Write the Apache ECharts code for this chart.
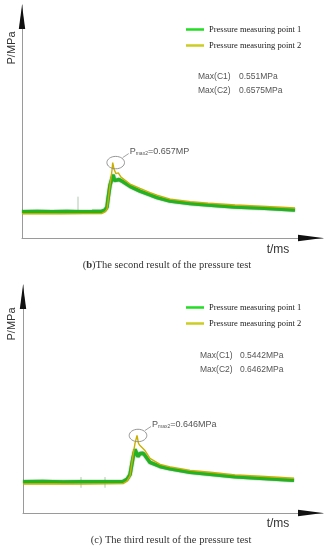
<!DOCTYPE html>
<html>
<head>
<meta charset="utf-8">
<script src="https://cdn.jsdelivr.net/npm/echarts@6/dist/echarts.min.js"></script>
<style>
html,body{margin:0;padding:0;background:#fff;}
#c{width:330px;height:550px;}
</style>
</head>
<body>
<div id="c"></div>
<script>
// ---- DATA (time in ms, arbitrary origin; pressure in MPa) ----
const seriesNames = ['Pressure measuring point 1', 'Pressure measuring point 2'];

// (b) second test
const tB1 = [0,15,30,45,56,70,80,83,85,86,88,90,91.2,92.5,94.7,97,101,108,118,128,135,148,168,186,213,238,273];
const pB1 = [0.229,0.231,0.228,0.230,0.229,0.231,0.233,0.243,0.27,0.34,0.46,0.52,0.551,0.50,0.504,0.51,0.49,0.45,0.409,0.375,0.352,0.322,0.30,0.287,0.27,0.261,0.243];
const tB2 = [0,20,40,60,80,83,85,86,88,90,90.7,92,94,96.3,99,108,118,128,135,148,168,186,213,238,273];
const pB2 = [0.211,0.212,0.210,0.212,0.214,0.228,0.25,0.32,0.46,0.59,0.657,0.60,0.56,0.568,0.53,0.47,0.432,0.395,0.374,0.339,0.317,0.304,0.287,0.278,0.261];
const tBspike = [56,56];
const pBspike = [0.22,0.36];

// (c) third test
const tC1 = [0,20,40,58,80,100,104,107,110,112,113.5,115,117,120,122,127,137,147,167,187,212,237,271];
const pC1 = [0.26,0.262,0.259,0.26,0.261,0.262,0.28,0.32,0.46,0.53,0.544,0.47,0.496,0.498,0.48,0.421,0.388,0.368,0.339,0.322,0.302,0.289,0.273];
const tC2 = [0,30,60,100,104,107,110,112,114,115.5,117,120,122,127,137,147,167,187,212,237,271];
const pC2 = [0.242,0.244,0.241,0.245,0.265,0.31,0.48,0.58,0.646,0.58,0.562,0.537,0.52,0.455,0.405,0.384,0.355,0.339,0.318,0.306,0.289];
const tCspike1 = [58,58], pCspike1 = [0.21,0.30];
const tCspike2 = [82,82], pCspike2 = [0.21,0.30];

const maxB = [['Max(C1)','0.551MPa'],['Max(C2)','0.6575MPa']];
const maxC = [['Max(C1)','0.5442MPa'],['Max(C2)','0.6462MPa']];
const peakLabelB = '=0.657MP';
const peakLabelC = '=0.646MPa';
const captionB = ['b', 'The second result of the pressure test'];
const captionC = '(c) The third result of the pressure test';
const yName = 'P/MPa', xName = 't/ms';

// ---- BUILD ----
function pairs(t, p){ return t.map((x,i)=>[x,p[i]]); }
const GREEN = '#22b322', YELLOW = '#c9b000';
const LEG_GREEN = '#22dd22', LEG_YELLOW = '#cccc22';

const grids = [
  {left:22, top:5, width:301, height:233},
  {left:23, top:285, width:300, height:228}
];
const yMax = [2.03, 1.9];
const xMax = [301, 300];

function xAx(i){
  return {type:'value', gridIndex:i, min:0, max:xMax[i],
    axisLine:{show:true, lineStyle:{color:'#9a9a9a', width:1}},
    axisTick:{show:false}, axisLabel:{show:false}, splitLine:{show:false}};
}
function yAx(i){
  return {type:'value', gridIndex:i, min:0, max:yMax[i],
    axisLine:{show:true, onZero:false, lineStyle:{color:'#9a9a9a', width:1}},
    axisTick:{show:false}, axisLabel:{show:false}, splitLine:{show:false}};
}
function lineSeries(name, data, idx, color, w, z){
  return {name, type:'line', data, xAxisIndex:idx, yAxisIndex:idx, showSymbol:false, symbol:'none',
    smooth:false, z, lineStyle:{color, width:w, shadowColor: w>2 ? 'rgba(0,50,0,0.55)' : 'rgba(0,0,0,0)', shadowBlur: w>2 ? 1.5 : 0},
    itemStyle:{color}, emphasis:{disabled:true}, animation:false};
}
function spikeSeries(data, idx){
  return {type:'line', data, xAxisIndex:idx, yAxisIndex:idx, showSymbol:false, symbol:'none', z:1,
    lineStyle:{color:'#9dbb9d', width:0.8}, emphasis:{disabled:true}, animation:false};
}
function legend(i, top){
  return {show:true, orient:'vertical', left:186, top, padding:0, itemGap:7,
    icon:'rect', itemWidth:18, itemHeight:2.5, selectedMode:false,
    textStyle:{fontFamily:'Liberation Serif', fontSize:8.5, color:'#1a1a1a'},
    data:[{name:seriesNames[0], itemStyle:{color:LEG_GREEN}}, {name:seriesNames[1], itemStyle:{color:LEG_YELLOW}}]};
}

const chart = echarts.init(document.getElementById('c'), null, {renderer:'canvas'});
chart.setOption({
  animation:false,
  grid: grids,
  xAxis:[xAx(0), xAx(1)],
  yAxis:[yAx(0), yAx(1)],
  legend:[legend(0, 25), legend(1, 303)],
  series:[
    spikeSeries(pairs(tBspike,pBspike), 0),
    lineSeries(seriesNames[0], pairs(tB1,pB1), 0, GREEN, 3.5, 2),
    lineSeries(seriesNames[1], pairs(tB2,pB2), 0, YELLOW, 1.4, 3),
    spikeSeries(pairs(tCspike1,pCspike1), 1),
    spikeSeries(pairs(tCspike2,pCspike2), 1),
    lineSeries(seriesNames[0], pairs(tC1,pC1), 1, GREEN, 3.5, 2),
    lineSeries(seriesNames[1], pairs(tC2,pC2), 1, YELLOW, 1.4, 3)
  ]
});

function peakOf(t, p){ let k=0; p.forEach((v,i)=>{ if(v>p[k]) k=i; }); return [t[k], p[k]]; }

const sans = 'Liberation Sans';
const g = [];

// axis arrows (black heads at the axis ends)
grids.forEach((gr,i)=>{
  const origin = chart.convertToPixel({gridIndex:i}, [0,0]);
  const yTop = chart.convertToPixel({gridIndex:i}, [0,yMax[i]]);
  const xEnd = chart.convertToPixel({gridIndex:i}, [xMax[i],0]);
  const ax = origin[0], ay = origin[1];
  g.push({type:'polygon', z:20, shape:{points:[[ax, yTop[1]],[ax-3.2, yTop[1]+24],[ax+3.2, yTop[1]+24]]}, style:{fill:'#111'}});
  g.push({type:'polygon', z:20, shape:{points:[[xEnd[0], ay],[xEnd[0]-25, ay-3.2],[xEnd[0]-25, ay+3.2]]}, style:{fill:'#111'}});
});

function annot(gi, t, p, label, dx){
  const pk = chart.convertToPixel({gridIndex:gi}, peakOf(t,p));
  const cx = pk[0] + dx, cy = pk[1];
  g.push({type:'ellipse', shape:{cx, cy, rx:8.8, ry:6.2}, style:{fill:null, stroke:'#8a8a8a', lineWidth:0.9}, z:10});
  g.push({type:'line', shape:{x1:cx+7, y1:cy-5, x2:cx+13, y2:cy-9}, style:{stroke:'#8a8a8a', lineWidth:0.8}, z:10});
  g.push({type:'text', x:cx+14, y:cy-11, z:10, style:{
    text:'{a|P}{s|max2}{a|'+label+'}', verticalAlign:'middle',
    rich:{a:{fontFamily:sans, fontSize:9, fill:'#555'}, s:{fontFamily:sans, fontSize:5, fill:'#555', verticalAlign:'bottom', padding:[4,0,0,0]}}
  }});
}
annot(0, tB2, pB2, peakLabelB, 3);
annot(1, tC2, pC2, peakLabelC, 1);

function maxTexts(list, x1, x2, y0, dy){
  list.forEach((r,i)=>{
    g.push({type:'text', x:x1, y:y0+i*dy, style:{text:r[0], fontFamily:sans, fontSize:8.5, fill:'#555', verticalAlign:'middle'}});
    g.push({type:'text', x:x2, y:y0+i*dy, style:{text:r[1], fontFamily:sans, fontSize:8.5, fill:'#555', verticalAlign:'middle'}});
  });
}
maxTexts(maxB, 198, 239, 77, 14);
maxTexts(maxC, 200, 240, 356, 14);

// axis names
[[12,48],[12,324]].forEach(pos=>{
  g.push({type:'text', x:pos[0], y:pos[1], rotation:Math.PI/2, style:{text:yName, fontFamily:sans, fontSize:11, fill:'#333', align:'center', verticalAlign:'middle'}});
});
[[278,250],[278,524]].forEach(pos=>{
  g.push({type:'text', x:pos[0], y:pos[1], style:{text:xName, fontFamily:sans, fontSize:12, fill:'#333', align:'center', verticalAlign:'middle'}});
});

// captions
g.push({type:'text', x:167, y:265, style:{
  text:'{n|(}{b|'+captionB[0]+'}{n|)'+captionB[1]+'}', align:'center', verticalAlign:'middle',
  rich:{n:{fontFamily:'Liberation Serif', fontSize:10.5, fill:'#333'}, b:{fontFamily:'Liberation Serif', fontSize:10.5, fontWeight:'bold', fill:'#333'}}
}});
g.push({type:'text', x:171, y:540, style:{text:captionC, fontFamily:'Liberation Serif', fontSize:10.5, fill:'#333', align:'center', verticalAlign:'middle'}});

chart.setOption({graphic:{elements:g}});
</script>
</body>
</html>
